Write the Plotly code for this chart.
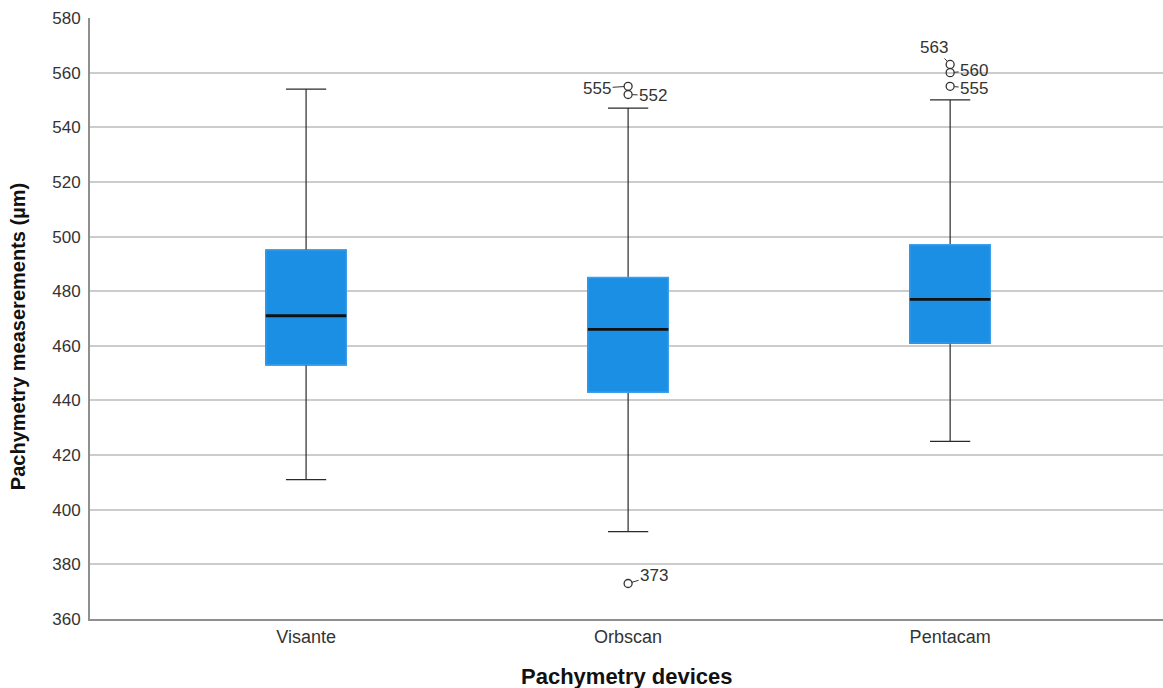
import plotly.graph_objects as go

# Pachymetry readings per device (µm): five-number summaries
devices = ["Visante", "Orbscan", "Pentacam"]
lower_whisker = [411, 392, 425]
q1 = [453, 443, 461]
median = [471, 466, 477]
q3 = [495, 485, 497]
upper_whisker = [554, 547, 550]

# Outlying cases, with the label drawn beside each
outlier_device = ["Orbscan", "Orbscan", "Orbscan", "Pentacam", "Pentacam", "Pentacam"]
outlier_value = [555, 552, 373, 563, 560, 555]
outlier_label = ["555", "552", "373", "563", "560", "555"]
# label offsets (px) from each marker
label_dx = [-31, 25, 26, -16, 24, 24]
label_dy = [2, 1, -8, -17, -2, 2]

y_ticks = list(range(360, 581, 20))

BOX_BLUE = "#1a8fe4"
EDGE_BLUE = "#3d9fec"
INK = "#333333"
FONT = "Liberation Sans, Arial, sans-serif"
BOX_W = 0.25

fig = go.Figure()

# whiskers and caps
fig.add_trace(go.Box(
    x=devices, q1=q1, median=median, q3=q3,
    lowerfence=lower_whisker, upperfence=upper_whisker,
    width=BOX_W, whiskerwidth=0.5,
    line=dict(color="#2a2a2a", width=1.2), fillcolor=BOX_BLUE,
    boxpoints=False, hoverinfo="skip", showlegend=False,
))
# filled interquartile box
fig.add_trace(go.Box(
    x=devices, q1=q1, median=median, q3=q3,
    lowerfence=q1, upperfence=q3,
    width=BOX_W, whiskerwidth=0,
    line=dict(color=EDGE_BLUE, width=1.3), fillcolor=BOX_BLUE,
    boxpoints=False, hoverinfo="skip", showlegend=False,
))
# median bar
fig.add_trace(go.Box(
    x=devices, q1=median, median=median, q3=median,
    lowerfence=median, upperfence=median,
    width=BOX_W, whiskerwidth=0,
    line=dict(color="#111111", width=2.8), fillcolor="rgba(0,0,0,0)",
    boxpoints=False, hoverinfo="skip", showlegend=False,
))
# outliers
fig.add_trace(go.Scatter(
    x=outlier_device, y=outlier_value, mode="markers",
    marker=dict(symbol="circle-open", size=8, color=INK, line=dict(width=1.3)),
    hoverinfo="skip", showlegend=False,
))

annotations = []
for dev, val, lab, dx, dy in zip(outlier_device, outlier_value, outlier_label, label_dx, label_dy):
    annotations.append(dict(
        x=dev, y=val, xref="x", yref="y", text=lab,
        showarrow=True, arrowhead=0, arrowwidth=1, arrowcolor=INK,
        ax=dx, ay=dy, standoff=4, startstandoff=0,
        font=dict(family=FONT, size=17, color=INK),
    ))

# axis titles
annotations.append(dict(
    text="Pachymetry devices", xref="paper", yref="paper",
    x=0.5, y=-0.0965, xanchor="center", yanchor="middle", showarrow=False,
    font=dict(family=FONT, size=22, color="#111111", weight="bold"),
))
annotations.append(dict(
    text="Pachymetry measerements (µm)", xref="paper", yref="paper",
    x=-0.0671, y=0.469, xanchor="center", yanchor="middle", showarrow=False,
    textangle=-90,
    font=dict(family=FONT, size=20, color="#111111", weight="bold"),
))

fig.update_layout(
    width=1163, height=688,
    margin=dict(l=90, r=0, t=18, b=69),
    paper_bgcolor="white", plot_bgcolor="white",
    boxmode="overlay",
    font=dict(family=FONT, size=17, color=INK),
    annotations=annotations,
    xaxis=dict(
        type="category", categoryorder="array", categoryarray=devices,
        range=[-0.671, 2.661],
        showgrid=False, zeroline=False,
        showline=True, linecolor="#8f8f8f", linewidth=2,
        ticks="", tickfont=dict(size=18, color=INK),
    ),
    yaxis=dict(
        range=[360, 580], tickvals=y_ticks,
        showgrid=True, gridcolor="#cccccc", gridwidth=1.5,
        zeroline=False,
        showline=True, linecolor="#8f8f8f", linewidth=2,
        ticks="", ticklabelstandoff=4,
        tickfont=dict(size=17, color=INK),
    ),
)

fig.write_html("out.html")
